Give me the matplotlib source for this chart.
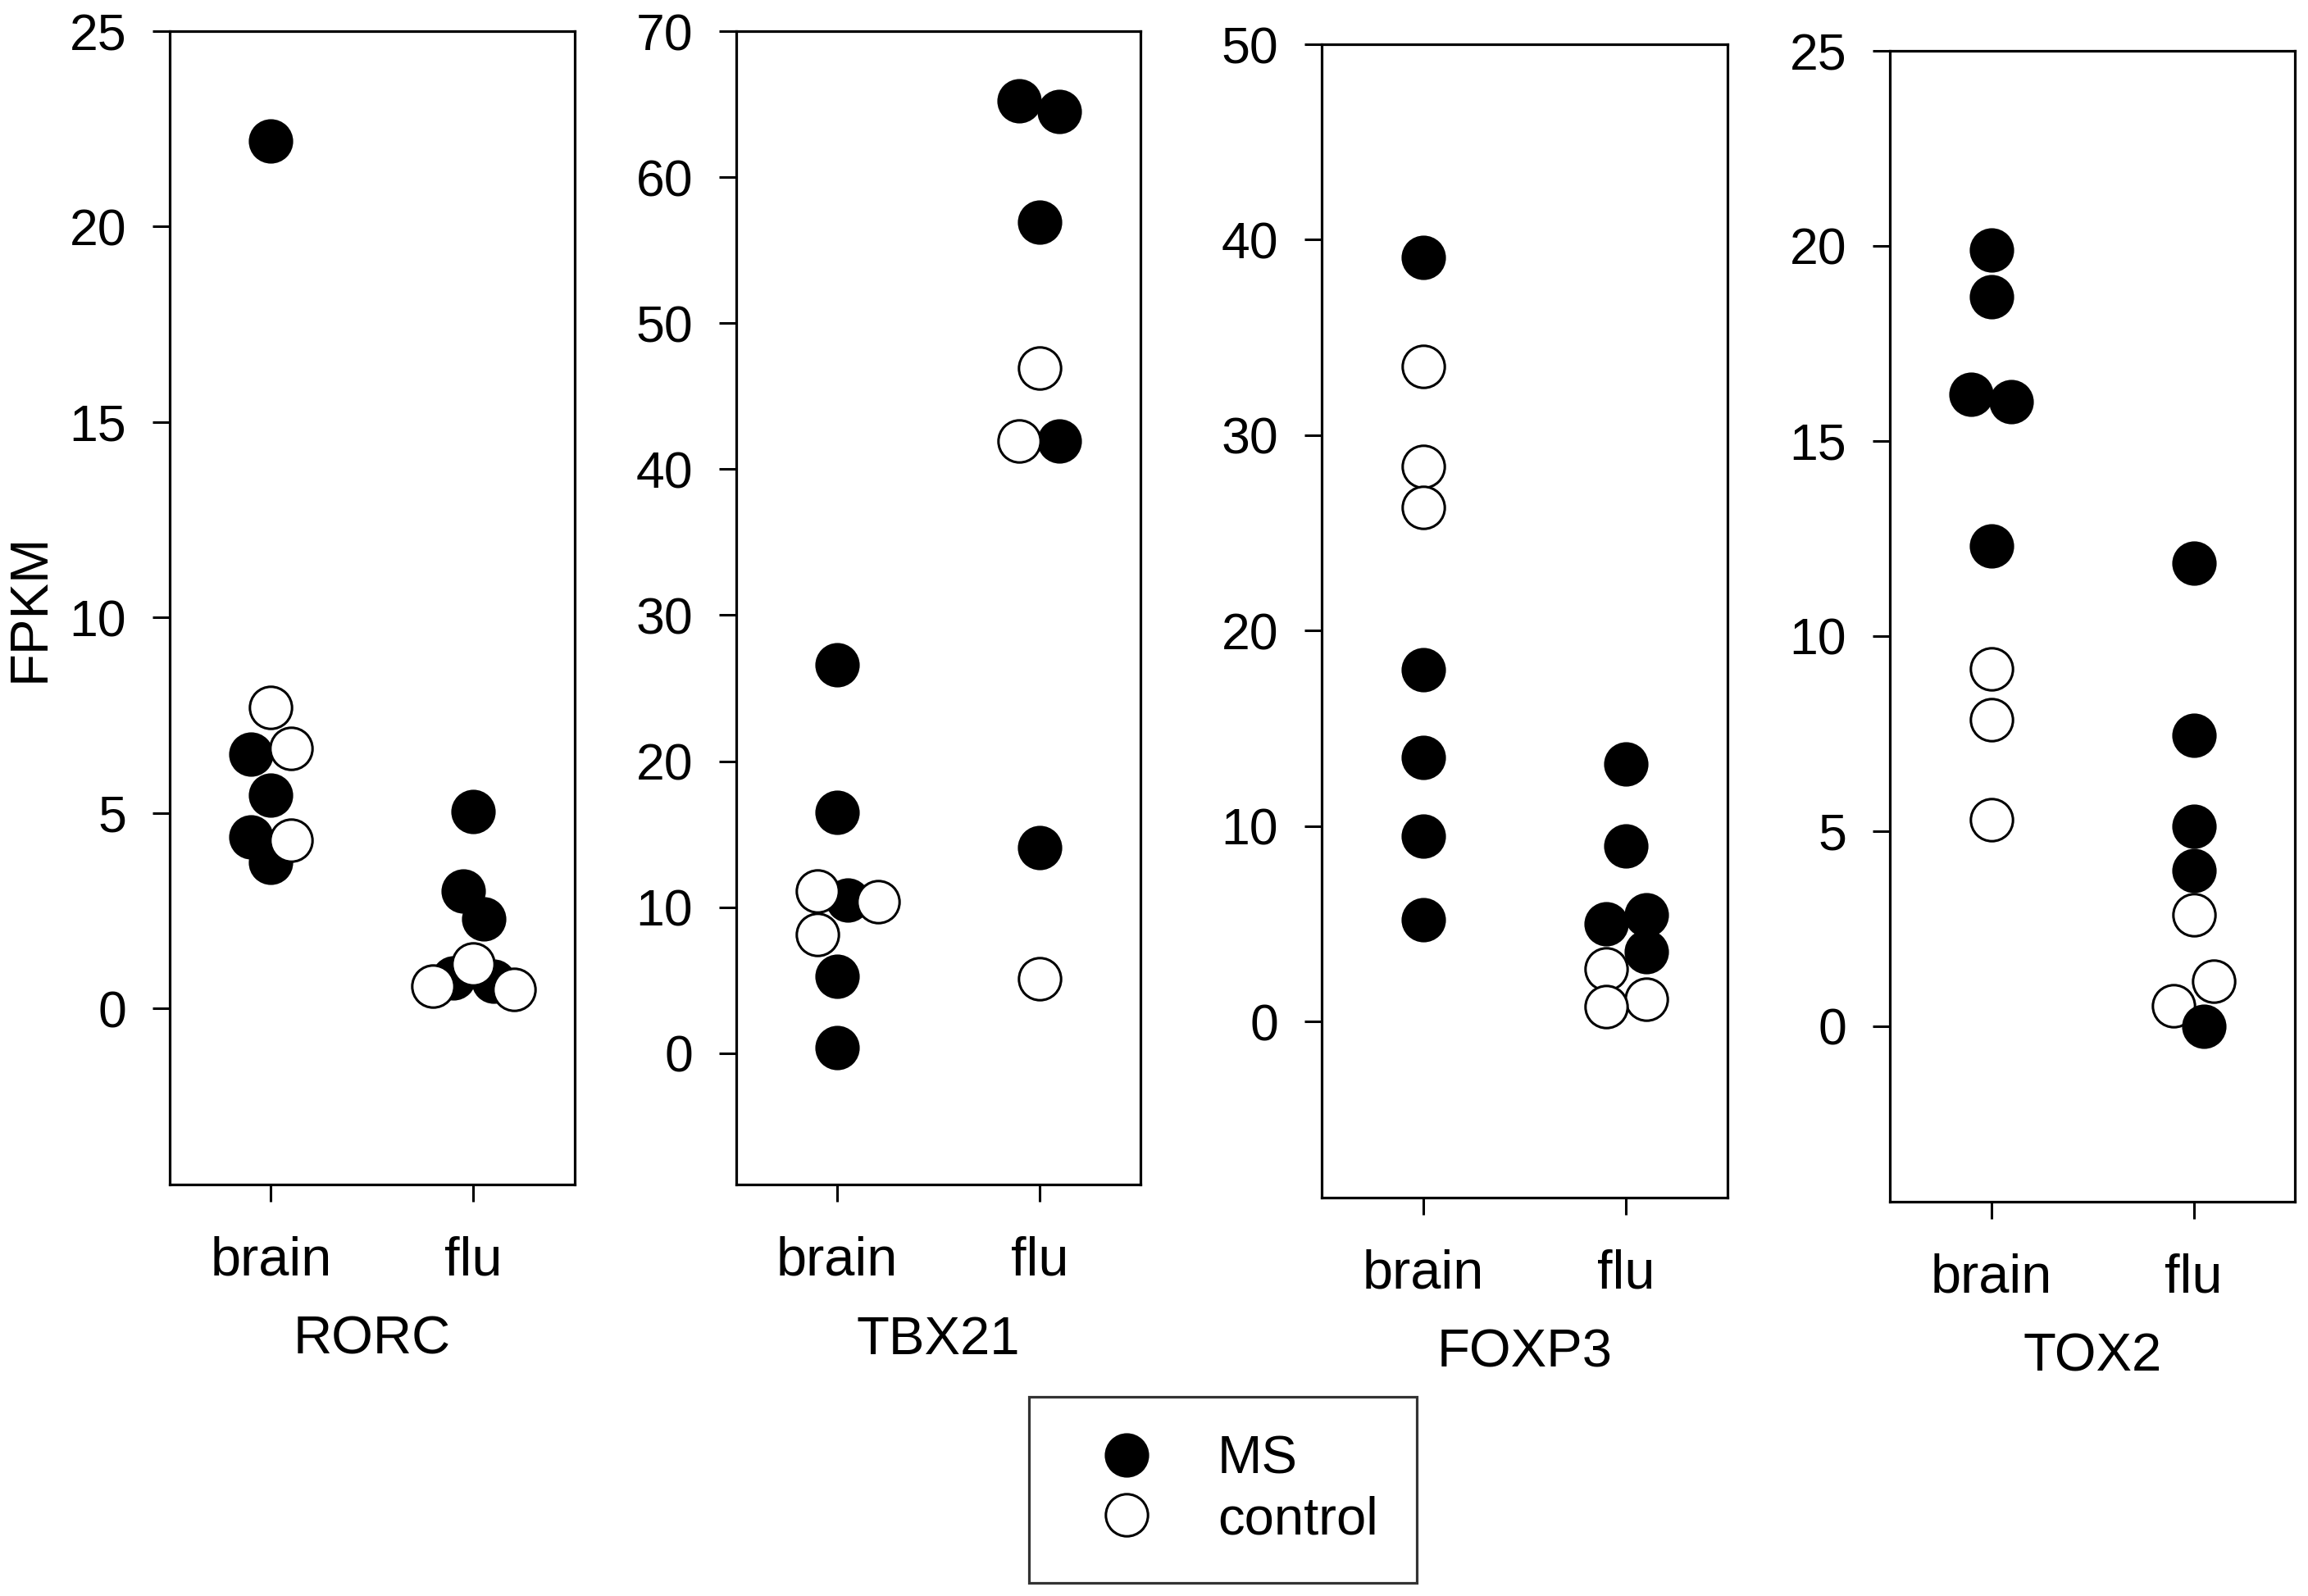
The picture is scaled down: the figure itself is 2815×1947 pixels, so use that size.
import matplotlib

matplotlib.use("Agg")
import matplotlib.pyplot as plt

plt.rcParams["font.family"] = ["Liberation Sans", "DejaVu Sans"]

# ---- data (FPKM) ----
GENES = ["RORC", "TBX21", "FOXP3", "TOX2"]
GROUPS = ["brain", "flu"]

RORC_BRAIN_MS = [22.2, 6.5, 5.45, 4.4, 3.75]
RORC_BRAIN_CTRL = [7.7, 6.65, 4.3]
RORC_FLU_MS = [5.05, 3.0, 2.3, 0.78, 0.7]
RORC_FLU_CTRL = [1.13, 0.57, 0.5]

TBX21_BRAIN_MS = [26.6, 16.5, 10.5, 5.25, 0.35]
TBX21_BRAIN_CTRL = [11.1, 10.35, 8.1]
TBX21_FLU_MS = [65.2, 64.5, 56.9, 41.9, 14.1]
TBX21_FLU_CTRL = [46.9, 41.9, 5.1]

FOXP3_BRAIN_MS = [39.1, 18.0, 13.5, 9.5, 5.2]
FOXP3_BRAIN_CTRL = [33.5, 28.4, 26.3]
FOXP3_FLU_MS = [13.2, 9.0, 5.45, 5.0, 3.6]
FOXP3_FLU_CTRL = [2.7, 1.13, 0.75]

TOX2_BRAIN_MS = [19.9, 18.7, 16.2, 16.0, 12.3]
TOX2_BRAIN_CTRL = [9.15, 7.86, 5.3]
TOX2_FLU_MS = [11.86, 7.45, 5.13, 3.98, 0.0]
TOX2_FLU_CTRL = [2.86, 1.15, 0.52]

MS = {
    "RORC": [RORC_BRAIN_MS, RORC_FLU_MS],
    "TBX21": [TBX21_BRAIN_MS, TBX21_FLU_MS],
    "FOXP3": [FOXP3_BRAIN_MS, FOXP3_FLU_MS],
    "TOX2": [TOX2_BRAIN_MS, TOX2_FLU_MS],
}
CTRL = {
    "RORC": [RORC_BRAIN_CTRL, RORC_FLU_CTRL],
    "TBX21": [TBX21_BRAIN_CTRL, TBX21_FLU_CTRL],
    "FOXP3": [FOXP3_BRAIN_CTRL, FOXP3_FLU_CTRL],
    "TOX2": [TOX2_BRAIN_CTRL, TOX2_FLU_CTRL],
}

# ---- layout: sideways dodge of overlapping dots (in category units) ----
DODGE_MS = {
    "RORC": [[0, -0.1, 0, -0.1, 0], [0, -0.05, 0.05, -0.1, 0.1]],
    "TBX21": [[0, 0, 0.05, 0, 0], [-0.1, 0.1, 0, 0.1, 0]],
    "FOXP3": [[0, 0, 0, 0, 0], [0, 0, 0.1, -0.1, 0.1]],
    "TOX2": [[0, 0, -0.1, 0.1, 0], [0, 0, 0, 0, 0.05]],
}
DODGE_CTRL = {
    "RORC": [[0, 0.1, 0.1], [0, -0.2, 0.2]],
    "TBX21": [[-0.1, 0.2, -0.1], [0, -0.1, 0]],
    "FOXP3": [[0, 0, 0], [-0.1, 0.1, -0.1]],
    "TOX2": [[0, 0, 0], [0, 0.1, -0.1]],
}
YLIM = {"RORC": (-4.5, 25), "TBX21": (-9, 70), "FOXP3": (-9, 50), "TOX2": (-4.5, 25)}
YSTEP = {"RORC": 5, "TBX21": 10, "FOXP3": 10, "TOX2": 5}
CTRL_ON_TOP = {"RORC": True, "TBX21": True, "FOXP3": True, "TOX2": False}
AX_POS = [
    [0.07353, 0.25783, 0.17549, 0.72265],
    [0.31901, 0.25783, 0.17513, 0.72265],
    [0.57265, 0.24961, 0.17584, 0.72265],
    [0.81883, 0.24704, 0.17549, 0.72111],
]

MS_KW = dict(ls="none", marker="o", ms=37, mfc="black", mec="black", mew=2)
CTRL_KW = dict(ls="none", marker="o", ms=37, mfc="white", mec="black", mew=2.2)


def panel(fig, pos, gene):
    ax = fig.add_axes(pos)
    z_ms, z_ctrl = (2, 3) if CTRL_ON_TOP[gene] else (3, 2)
    h_ms = h_ctrl = None
    for gi in range(len(GROUPS)):
        xs = [gi + d for d in DODGE_MS[gene][gi]]
        (h_ms,) = ax.plot(xs, MS[gene][gi], zorder=z_ms, clip_on=False, **MS_KW)
        xs = [gi + d for d in DODGE_CTRL[gene][gi]]
        (h_ctrl,) = ax.plot(xs, CTRL[gene][gi], zorder=z_ctrl, clip_on=False, **CTRL_KW)
    lo, hi = YLIM[gene]
    ax.set_xlim(-0.5, 1.5)
    ax.set_ylim(lo, hi)
    ax.set_yticks(range(0, int(hi) + 1, YSTEP[gene]))
    ax.set_xticks(range(len(GROUPS)))
    ax.set_xticklabels(GROUPS)
    for s in ax.spines.values():
        s.set_linewidth(2.3)
    ax.tick_params(axis="y", direction="out", length=15, width=2.2, pad=23,
                   labelsize=45, right=False)
    ax.tick_params(axis="x", direction="out", length=15, width=2.2, pad=30,
                   labelsize=48, top=False)
    ax.text(0.5, -0.147, gene, transform=ax.transAxes, ha="center",
            va="baseline", fontsize=47)
    return ax, h_ms, h_ctrl


def main():
    fig = plt.figure(figsize=(28.15, 19.47), dpi=100)
    handles = None
    for pos, gene in zip(AX_POS, GENES):
        ax, h_ms, h_ctrl = panel(fig, pos, gene)
        if handles is None:
            handles = [h_ms, h_ctrl]
    fig.text(0.0131, 0.6194, "FPKM", rotation=90, ha="center", va="center",
             fontsize=47)
    leg = fig.legend(handles, ["MS", "control"], loc="center",
                     bbox_to_anchor=(0.5298, 0.0665), fontsize=47,
                     frameon=True, fancybox=False, edgecolor="black",
                     borderpad=0.72, handlelength=2.2, handletextpad=0.6,
                     labelspacing=0.2, markerscale=1.0)
    leg.get_frame().set_linewidth(2.3)
    fig.savefig("out.png", dpi=100, facecolor="white")


if __name__ == "__main__":
    main()
